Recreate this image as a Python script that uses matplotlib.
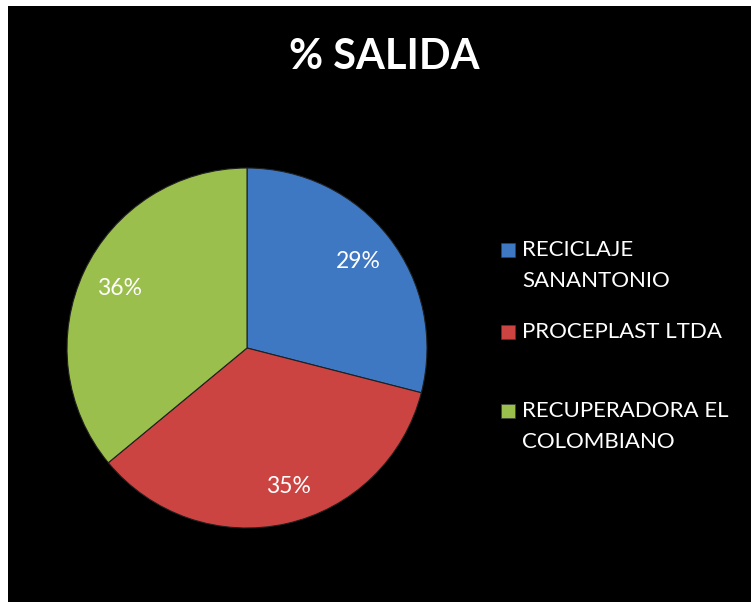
import matplotlib
matplotlib.use("Agg")
from matplotlib import pyplot as plt
from matplotlib.patches import Rectangle

# data
companies = ["RECICLAJE\nSANANTONIO", "PROCEPLAST LTDA", "RECUPERADORA EL\nCOLOMBIANO"]
shares = [29, 35, 36]
colors = ["#3F78C2", "#CC4442", "#9BBF4C"]
title = "% SALIDA"

W, H = 751, 602
fig = plt.figure(figsize=(W / 100, H / 100), dpi=100, facecolor="white")
# black chart area (white strip left and top)
fig.patches.append(Rectangle((8 / W, 0), 1 - 8 / W, 1 - 6 / H, transform=fig.transFigure,
                             facecolor="black", edgecolor="none", zorder=-5))

plt.rcParams["font.family"] = ["Lato", "DejaVu Sans"]

# pie
cx, cy, r = 247, 348, 180
ax = fig.add_axes([(cx - r) / W, (H - cy - r) / H, 2 * r / W, 2 * r / H], zorder=2)
ax.patch.set_visible(False)
wedges, texts, autotexts = ax.pie(shares, colors=colors, startangle=90, counterclock=False,
                                  autopct="%1.0f%%", pctdistance=0.78,
                                  wedgeprops=dict(edgecolor="#202020", linewidth=0.8),
                                  textprops=dict(color="white", fontsize=16.5))
# excel puts the red label a bit further right
x, y = autotexts[1].get_position()
autotexts[1].set_position((x + 0.06, y - 0.01))
ax.set_xlim(-1, 1)
ax.set_ylim(-1, 1)
ax.set_axis_off()

fig.text(384 / W, 1 - 57 / H, title, color="white", fontsize=30, fontweight="bold",
         ha="center", va="center")

# legend drawn by hand
legend_y = [250, 332, 411]
for name, col, y in zip(companies, colors, legend_y):
    fig.patches.append(Rectangle((501 / W, 1 - (y + 7) / H), 14 / W, 14 / H,
                                 transform=fig.transFigure, facecolor=col,
                                 edgecolor="#404040", linewidth=0.5, zorder=3))
    fig.text(522 / W, 1 - (y - 10) / H, name, color="white", fontsize=16,
             ha="left", va="top", linespacing=1.7)

fig.savefig("out.png", dpi=100, facecolor="white")
